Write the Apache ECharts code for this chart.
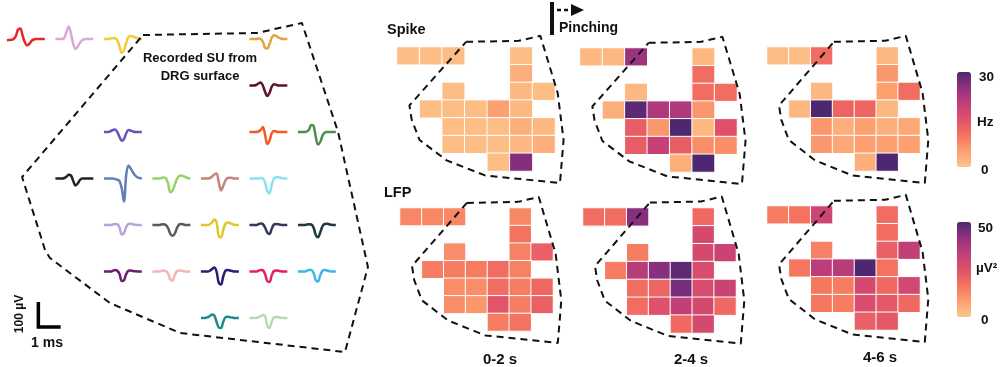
<!DOCTYPE html>
<html><head><meta charset="utf-8">
<script src="https://cdn.jsdelivr.net/npm/echarts@6/dist/echarts.min.js"></script>
<style>html,body{margin:0;padding:0;background:#fff}#c{width:1001px;height:367px}</style>
</head><body><div id="c"></div><script>
// ---------- DATA ----------
// electrode layout (row, col) shared by waveforms and heat maps
const cellRows = [0,0,0,0, 1, 2,2,2, 3,3,3,3,3, 4,4,4,4,4, 5,5,5,5,5, 6,6];
const cellCols = [0,1,2,5, 5, 2,5,6, 1,2,3,4,5, 2,3,4,5,6, 2,3,4,5,6, 4,5];
const gridCats = ['0','1','2','3','4','5','6'];
// spike rate (Hz)
const spike02 = [1,1,1,1, 3, 1,2,1, 1,1,1,5,2, 1,1,1,3,2, 1,1,1,2,3, 1,26];
const spike24 = [2,2,24,2, 11, 2,11,11, 3,29,22,22,6, 13,6,30,2,15, 13,19,13,7,7, 3,30];
const spike46 = [1,1,11,2, 6, 2,5,11, 2,30,12,12,2, 6,3,5,3,4, 6,4,5,5,5, 3,30];
// LFP power (uV^2)
const lfp02 = [13,13,13,13, 17, 12,14,21, 15,15,15,18,14, 12,12,18,15,19, 12,10,24,15,21, 15,17];
const lfp24 = [18,18,43,19, 28, 15,28,31, 15,35,43,48,27, 18,20,45,27,31, 18,25,33,28,19, 19,28];
const lfp46 = [15,17,30,18, 18, 14,21,33, 16,34,35,50,17, 16,15,28,19,29, 16,15,27,23,19, 21,23];
const panelLabels = ['0-2 s','2-4 s','4-6 s'];
// single-unit waveforms (uV, sampled every 0.1 ms), same order as cells
const waveColors = ['#e8262a','#d9a8d4','#f0cc38','#e6a23c','#5e1030','#6455b8','#f25a28','#4e8c50',
  '#222222','#5f80b8','#96d468','#c48478','#88e4ec',
  '#b7a3e0','#555b5a','#dcc82a','#33385e','#1e3a3e',
  '#6a1e6e','#f0b6b8','#2c1c78','#e0245a','#3cb8e8',
  '#1e8c8a','#b4dcb0'];
const waveShapes = [
  [-5,-4,-3,0,12,38,42,15,-12,-25,-20,-8,-2,0,0,0,0,0],
  [0,0,0,0,5,30,50,20,-20,-40,-30,-15,-5,-1,0,0,0,0],
  [0,0,0,2,4,3,-5,-30,-55,-45,-15,8,12,10,6,3,1,0],
  [0,0,0,0,2,0,-10,-35,-38,-20,5,15,12,6,2,0,0,0],
  [0,0,0,2,8,12,0,-25,-42,-30,-5,5,3,0,0,0,0,0],
  [0,0,0,3,8,10,0,-20,-35,-28,-5,8,6,2,0,0,0,0],
  [0,0,0,0,2,8,20,-10,-48,-35,-5,4,2,0,0,0,0,0],
  [0,0,0,0,2,10,28,25,-20,-50,-40,-15,-3,0,0,0,0,0],
  [0,0,0,0,2,8,15,12,-10,-28,-20,-6,0,0,0,0,0,0],
  [0,0,0,0,0,-2,-5,-10,-40,-92,15,52,40,25,12,5,2,0],
  [0,0,0,0,2,4,2,-20,-55,-48,-25,-2,10,12,9,5,2,0],
  [0,0,0,0,2,8,16,20,-15,-48,-30,-8,2,3,2,0,0,0],
  [0,0,0,0,0,2,0,-15,-50,-60,-25,0,5,5,3,1,0,0],
  [0,0,0,0,2,4,3,-10,-38,-32,-8,4,5,3,1,0,0,0],
  [0,0,0,0,2,3,0,-12,-35,-43,-35,-12,2,4,2,0,0,0],
  [0,0,0,0,3,10,22,10,-45,-50,-20,5,10,8,4,1,0,0],
  [0,0,0,0,3,6,4,-10,-30,-36,-15,2,4,3,1,0,0,0],
  [0,0,0,0,2,3,2,-10,-40,-49,-30,-5,4,5,3,1,0,0],
  [0,0,0,0,3,6,3,-10,-38,-35,-10,3,4,2,1,0,0,0],
  [0,0,0,0,2,4,2,-8,-32,-36,-15,2,4,3,1,0,0,0],
  [0,0,0,0,3,10,16,0,-45,-52,-20,3,6,4,2,0,0,0],
  [0,0,0,0,3,6,5,-10,-38,-42,-15,2,4,3,1,0,0,0],
  [0,0,0,0,3,6,6,-5,-35,-40,-15,3,6,4,2,0,0,0],
  [0,0,0,3,8,14,10,-15,-38,-40,-15,3,5,3,2,0,0,0],
  [0,0,0,0,3,6,12,8,-30,-40,-15,2,4,3,1,0,0,0]
];
// scale bar: 1 ms, 100 uV
const scaleMs = 1, scaleUv = 100;

// ---------- LAYOUT ----------
const sampleMs = 0.1;
const colPitchMs = 2.175, rowPitchUv = 186, originMs = 0.31, originUv = -156;
const leftOutline = [[6.41,-140],[11.52,-132],[13.54,-92],[15.16,-528],[16.50,-1068],[15.47,-1408],
  [8.07,-1332],[4.93,-1212],[2.24,-1032],[2.02,-1000],[0.99,-708],[6.41,-140]];
const mapOutline = [[2.56,-0.79],[4.9,-0.85],[5.85,-1.13],[6.62,2.1],[6.88,4.75],[6.72,7.18],
  [3.4,6.75],[1.7,5.9],[0.5,4.75],[0.15,3.6],[0.05,2.8],[2.56,-0.79]];
const mapGrids = [
  {left:397, top:47, width:158, height:124},
  {left:580, top:48, width:157, height:124},
  {left:767, top:47, width:153, height:124},
  {left:400, top:208, width:153, height:123},
  {left:583, top:208, width:153, height:125},
  {left:767, top:206, width:153, height:124}
];
const mapValues = [spike02, spike24, spike46, lfp02, lfp24, lfp46];
const cmap = ['#fdc68c','#fca070','#f5735f','#e0506a','#c03f79','#93307f','#4d2870'];
const FONT = "'Liberation Sans', Arial, sans-serif";
const PAD = 2; // cells of padding around the outline grids

const grid = [{left:0, top:0, width:380, height:367}].concat(mapGrids);
mapGrids.forEach(g=>{
  const cw = g.width/7, ch = g.height/7;
  grid.push({left:g.left-PAD*cw, top:g.top-PAD*ch, width:g.width+2*PAD*cw, height:g.height+2*PAD*ch});
});
const xAxis = [{type:'value', gridIndex:0, min:0, max:380/22.3, show:false}];
const yAxis = [{type:'value', gridIndex:0, min:-1468, max:0, show:false}];
mapGrids.forEach((g,i)=>{
  xAxis.push({type:'category', gridIndex:i+1, data:gridCats, show:false});
  yAxis.push({type:'category', gridIndex:i+1, data:gridCats, inverse:true, show:false});
});
mapGrids.forEach((g,i)=>{
  xAxis.push({type:'value', gridIndex:i+7, min:-0.5-PAD, max:6.5+PAD, show:false});
  yAxis.push({type:'value', gridIndex:i+7, min:-0.5-PAD, max:6.5+PAD, inverse:true, show:false});
});

const series = [];
mapValues.forEach((vals,i)=>{
  series.push({
    type:'heatmap', xAxisIndex:i+1, yAxisIndex:i+1, silent:true,
    data: vals.map((v,k)=>[cellCols[k], cellRows[k], v]),
    itemStyle:{borderColor:'#fff', borderWidth:1}
  });
});
mapValues.forEach((vals,i)=>{
  series.push({
    type:'line', xAxisIndex:i+7, yAxisIndex:i+7, clip:false, symbol:'none', silent:true, z:5,
    data: mapOutline, lineStyle:{color:'#111', width:2, type:[7,5]}
  });
});
waveShapes.forEach((w,k)=>{
  const x0 = originMs + cellCols[k]*colPitchMs;
  const y0 = originUv - cellRows[k]*rowPitchUv;
  series.push({
    type:'line', xAxisIndex:0, yAxisIndex:0, symbol:'none', smooth:0.35, silent:true, clip:false,
    data: w.map((v,i)=>[x0 + i*sampleMs, y0 + v]),
    lineStyle:{color:waveColors[k], width:2.5}
  });
});
series.push({
  type:'line', xAxisIndex:0, yAxisIndex:0, symbol:'none', clip:false, silent:true,
  data: leftOutline, lineStyle:{color:'#111', width:2, type:[7,5]}
});
series.push({
  type:'line', xAxisIndex:0, yAxisIndex:0, symbol:'none', clip:false, silent:true,
  data: [[1.72,-1208],[1.72,-1208-scaleUv],[1.72+scaleMs,-1208-scaleUv]],
  lineStyle:{color:'#000', width:3.5, join:'miter', cap:'butt'}
});

function txt(t, x, y, size, align, extra){
  return Object.assign({type:'text', x:x, y:y, silent:true,
    style:{text:t, fill:'#111', font:'bold '+size+'px '+FONT,
      textAlign:align||'left', textVerticalAlign:'middle'}}, extra||{});
}
const graphic = [
  txt('Recorded SU from', 200, 58, 13, 'center'),
  txt('DRG surface', 200, 76, 13, 'center'),
  txt('100 µV', 20, 314, 12, 'center', {rotation:Math.PI/2}),
  txt('1 ms', 47, 343, 14, 'center'),
  txt('Spike', 387, 30, 14.5, 'left'),
  txt('LFP', 384, 193, 14.5, 'left'),
  txt('Pinching', 559, 28, 14, 'left'),
  txt(panelLabels[0], 500, 360, 15, 'center'),
  txt(panelLabels[1], 691, 360, 15, 'center'),
  txt(panelLabels[2], 880, 358, 15, 'center'),
  txt('30', 979, 77, 13.5, 'left'),
  txt('Hz', 977, 122, 13.5, 'left'),
  txt('0', 981, 170, 13.5, 'left'),
  txt('50', 978, 228, 13.5, 'left'),
  txt('µV²', 976, 268, 13.5, 'left'),
  txt('0', 981, 320, 13.5, 'left'),
  {type:'rect', shape:{x:550, y:2, width:4, height:33}, style:{fill:'#111'}, silent:true},
  {type:'line', shape:{x1:557, y1:10, x2:571, y2:10}, style:{stroke:'#111', lineWidth:2.5, lineDash:[4,3]}, silent:true},
  {type:'polygon', shape:{points:[[571,4],[584,10],[571,16]]}, style:{fill:'#111'}, silent:true}
];

const chart = echarts.init(document.getElementById('c'), null, {renderer:'canvas'});
chart.setOption({
  animation:false,
  backgroundColor:'#fff',
  grid, xAxis, yAxis, series, graphic,
  visualMap:[
    {type:'continuous', seriesIndex:[0,1,2], min:0, max:30, orient:'vertical', left:957, top:72,
     itemWidth:14, itemHeight:95, calculable:false, padding:0, hoverLink:false, inRange:{color:cmap}},
    {type:'continuous', seriesIndex:[3,4,5], min:0, max:50, orient:'vertical', left:957, top:222,
     itemWidth:14, itemHeight:95, calculable:false, padding:0, hoverLink:false, inRange:{color:cmap}}
  ]
});
</script></body></html>
